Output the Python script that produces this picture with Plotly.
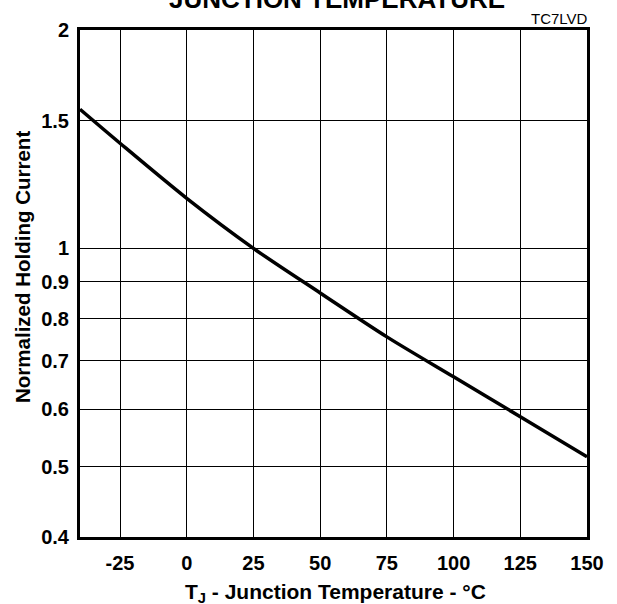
import numpy as np
import plotly.graph_objects as go

# Data
temp_c = [-40, -25, 0, 25, 50, 75, 100, 125, 150]
holding_current = [1.555, 1.396, 1.172, 1.0, 0.868, 0.755, 0.665, 0.586, 0.516]

x_ticks = [-25, 0, 25, 50, 75, 100, 125, 150]
y_ticks = [0.4, 0.5, 0.6, 0.7, 0.8, 0.9, 1, 1.5, 2]
y_tick_text = ["0.4", "0.5", "0.6", "0.7", "0.8", "0.9", "1", "1.5", "2"]

FONT = "Liberation Sans, Arial, sans-serif"

fig = go.Figure()
fig.add_trace(go.Scatter(
    x=temp_c, y=holding_current, mode="lines",
    line=dict(color="black", width=3.5, shape="spline", smoothing=0.8),
    showlegend=False, hoverinfo="skip",
))

fig.update_layout(
    width=617, height=604,
    margin=dict(l=80, r=30.3, t=30.2, b=67.4),
    paper_bgcolor="white", plot_bgcolor="white",
    font=dict(family=FONT, color="black", size=20),
    xaxis=dict(
        range=[-40, 150], tickmode="array", tickvals=x_ticks,
        ticktext=[str(v) for v in x_ticks],
        tickfont=dict(family=FONT, size=20, color="black", weight="bold"),
        showgrid=True, gridcolor="black", gridwidth=1.4,
        showline=True, mirror=True, linecolor="black", linewidth=3,
        ticks="outside", ticklen=6, tickcolor="rgba(0,0,0,0)",
        zeroline=False,
    ),
    yaxis=dict(
        type="log", range=[np.log10(0.4), np.log10(2)],
        tickmode="array", tickvals=y_ticks, ticktext=y_tick_text,
        tickfont=dict(family=FONT, size=20, color="black", weight="bold"),
        showgrid=True, gridcolor="black", gridwidth=1.1,
        showline=True, mirror=True, linecolor="black", linewidth=3,
        ticks="outside", ticklen=4, tickcolor="rgba(0,0,0,0)",
        zeroline=False,
    ),
    annotations=[
        dict(text="<b>JUNCTION TEMPERATURE</b>", xref="paper", yref="paper",
             x=0.5, y=1, xanchor="center", yanchor="bottom", yshift=14,
             xshift=3, showarrow=False,
             font=dict(family=FONT, size=26, color="black")),
        dict(text="TC7LVD", xref="paper", yref="paper", x=1.0, y=1,
             xanchor="right", yanchor="bottom", yshift=1, xshift=3,
             showarrow=False, font=dict(family=FONT, size=15, color="black")),
        dict(text="<b>T<sub>J</sub> - Junction Temperature - °C</b>",
             xref="paper", yref="paper", x=0.5, y=0, xanchor="center",
             yanchor="top", yshift=-40.5, xshift=2, showarrow=False,
             font=dict(family=FONT, size=21, color="black")),
        dict(text="<b>Normalized Holding Current</b>", xref="paper", yref="paper",
             x=0, y=0.5, xanchor="center", yanchor="middle", xshift=-57.5,
             yshift=16, textangle=-90, showarrow=False,
             font=dict(family=FONT, size=20.5, color="black")),
    ],
)

# Remove the default 8px page margin so the figure fills the window exactly
fig.write_html("out.html",
               config={"displayModeBar": False},
               post_script="document.body.style.margin='0px';"
                           "document.body.style.overflow='hidden';")
